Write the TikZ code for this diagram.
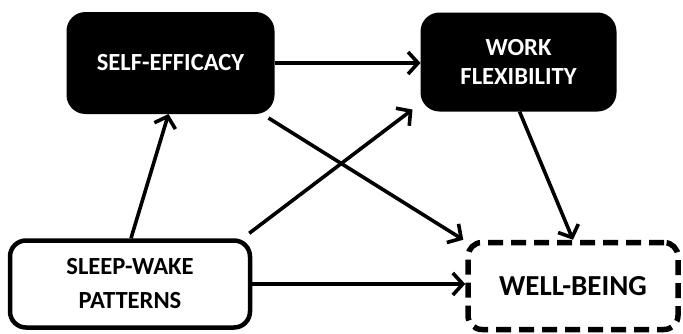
\documentclass[tikz,border=0pt]{standalone}
\usepackage{fontspec}
\setmainfont{Carlito}
\usetikzlibrary{arrows.meta,calc}
\begin{document}
\begin{tikzpicture}[x=1pt,y=-1pt,
  filledbox/.style={draw=black,fill=black,text=white,rounded corners=18pt,line width=2pt,align=center,inner sep=0pt,
     font=\fontsize{24.6}{29}\selectfont\bfseries},
  solidbox/.style={draw=black,fill=white,rounded corners=16pt,line width=4.5pt,align=center,inner sep=0pt,
     font=\fontsize{24.6}{34}\selectfont\bfseries},
  dashbox/.style={draw=black,fill=white,rounded corners=14pt,line width=5.5pt,dash pattern=on 15pt off 8pt,align=center,inner sep=0pt,
     font=\fontsize{29}{34}\selectfont\bfseries},
  link/.style={line width=3.6pt,-{Straight Barb[length=10pt,width=22pt]}}]
\useasboundingbox (0,0) rectangle (683,333);
\node[filledbox,minimum width=206pt,minimum height=100pt] (se) at (170.5,63) {SELF-EFFICACY};
\node[filledbox,minimum width=194pt,minimum height=97pt] (wf) at (518.5,62) {WORK\\FLEXIBILITY};
\node[solidbox,minimum width=240pt,minimum height=87pt] (sw) at (130,284) {SLEEP-WAKE\\PATTERNS};
\node[dashbox,minimum width=210pt,minimum height=87pt] (wb) at (573,286) {WELL-BEING};
\draw[link] (se.east) -- (se.east -| wf.west);
\draw[link] ([xshift=1pt]sw.north) -- ([xshift=-2pt]se.south);
\draw[link] ([xshift=-3pt,yshift=5pt]sw.north east) -- ([xshift=-8pt,yshift=2pt]wf.south west);
\draw[link] ([xshift=-6pt,yshift=-4pt]se.south east) -- ([xshift=-2pt]wb.north west);
\draw[link] ([xshift=1pt]wf.south) -- (wb.north);
\draw[link] (sw.east) -- (sw.east -| wb.west);
\end{tikzpicture}
\end{document}
